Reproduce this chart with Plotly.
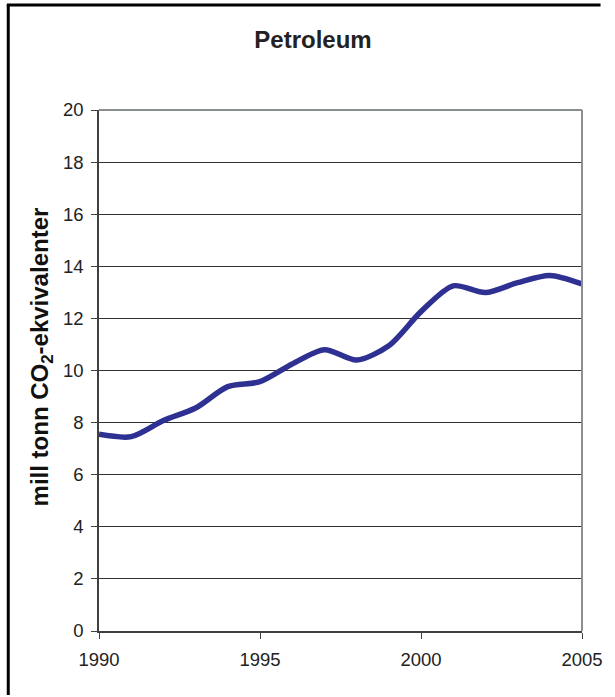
import plotly.graph_objects as go

# Annual emissions from petroleum activities (million tonnes CO2 equivalents)
years = [1990, 1991, 1992, 1993, 1994, 1995, 1996, 1997, 1998, 1999,
         2000, 2001, 2002, 2003, 2004, 2005]
emissions = [7.55, 7.46, 8.08, 8.56, 9.38, 9.57, 10.25, 10.8, 10.4, 10.95,
             12.26, 13.25, 12.99, 13.37, 13.65, 13.32]

x_ticks = [1990, 1995, 2000, 2005]
y_ticks = list(range(0, 21, 2))

W, H = 615, 697
L, R, T, B = 99, 21, 110, 66
pw, ph = W - L - R, H - T - B

font_family = "Liberation Sans, Arial, sans-serif"


def px_x(px):
    return (px - L) / pw


def px_y(py):
    return (H - B - py) / ph


fig = go.Figure()
fig.add_trace(go.Scatter(
    x=years, y=emissions, mode="lines",
    line=dict(color="#2e3192", width=5.5, shape="spline", smoothing=0.8),
    hoverinfo="x+y", showlegend=False,
))

fig.update_layout(
    width=W, height=H,
    margin=dict(l=L, r=R, t=T, b=B),
    paper_bgcolor="white", plot_bgcolor="white",
    font=dict(family=font_family, size=18, color="#222222"),
    title=dict(text="<b>Petroleum</b>", x=313 / W, xref="container", xanchor="center",
               y=1 - 40 / H, yanchor="middle",
               font=dict(family=font_family, size=24, color="#222222")),
    xaxis=dict(range=[1990, 2005], tickvals=x_ticks, ticks="outside", ticklen=6,
               tickcolor="#404040", showgrid=False, zeroline=False,
               showline=True, linecolor="#404040", linewidth=1.5,
               tickfont=dict(size=18.5), ticklabelstandoff=5),
    yaxis=dict(range=[0, 20], tickvals=y_ticks, ticks="outside", ticklen=6,
               tickcolor="#404040", showgrid=True, gridcolor="#303030", gridwidth=1,
               zeroline=False, showline=True, linecolor="#404040", linewidth=1.5,
               tickfont=dict(size=18.5), ticklabelstandoff=4),
)

# Rotated y-axis title
fig.add_annotation(
    text="<b>mill tonn CO<sub>2</sub>-ekvivalenter</b>",
    xref="paper", yref="paper",
    x=px_x(40), y=px_y(357),
    xanchor="center", yanchor="middle", textangle=-90, showarrow=False,
    font=dict(family=font_family, size=24, color="#111111"),
)

# Plot-area frame on the top and right sides (gray)
fig.add_shape(type="line", xref="paper", yref="paper", x0=0, x1=1, y0=1, y1=1,
              line=dict(color="#8a8f8f", width=2))
fig.add_shape(type="line", xref="paper", yref="paper", x0=1, x1=1, y0=0, y1=1,
              line=dict(color="#8a8f8f", width=2))

# Outer chart border (left and top edges only)
fig.add_shape(type="line", xref="paper", yref="paper",
              x0=px_x(6), x1=px_x(6), y0=px_y(H - 2), y1=px_y(5),
              line=dict(color="black", width=3))
fig.add_shape(type="line", xref="paper", yref="paper",
              x0=px_x(4.5), x1=px_x(W - 2), y0=px_y(5), y1=px_y(5),
              line=dict(color="black", width=3))

fig.write_html("out.html", config={"responsive": False, "displayModeBar": False})
